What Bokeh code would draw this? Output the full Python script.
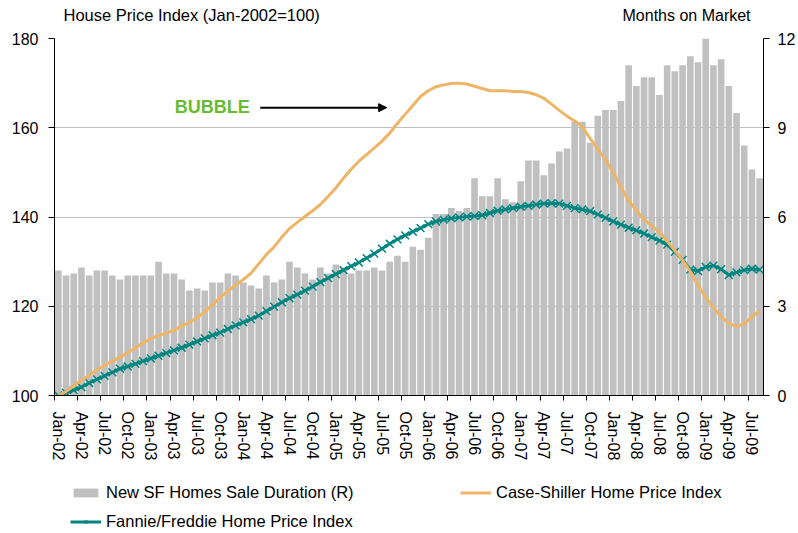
from bokeh.plotting import figure
from bokeh.models import (Range1d, LinearAxis, FixedTicker, Legend, LegendItem,
                          Label, Arrow, NormalHead)
from bokeh.layouts import column
from bokeh.embed import file_html
from bokeh.resources import INLINE

# ---------------- data ----------------
months = list(range(1, 93))  # Jan-02 .. Aug-09

sale_duration = [
    4.2, 4.03, 4.1, 4.3, 4.03, 4.2, 4.2, 4.03, 3.9, 4.03, 4.03, 4.03,
    4.03, 4.5, 4.1, 4.1, 3.9, 3.53, 3.6, 3.53, 3.8, 3.8, 4.1, 4.03,
    3.8, 3.7, 3.6, 4.03, 3.8, 3.9, 4.5, 4.3, 4.1, 3.9, 4.3, 4.1,
    4.4, 4.3, 4.1, 4.2, 4.2, 4.3, 4.2, 4.5, 4.7, 4.5, 5.0, 4.9,
    5.3, 6.1, 6.1, 6.3, 6.2, 6.3, 7.3, 6.7, 6.7, 7.3, 6.6, 6.5,
    7.2, 7.9, 7.9, 7.4, 7.8, 8.2, 8.3, 9.2, 9.2, 8.5, 9.4, 9.6,
    9.6, 9.9, 11.1, 10.4, 10.7, 10.7, 10.1, 11.1, 10.9, 11.1, 11.4, 11.2,
    12.1, 11.1, 11.3, 10.4, 9.5, 8.4, 7.6, 7.3,
]

case_shiller = [
    100.0, 100.9, 102.2, 103.4, 104.5, 105.7, 106.8, 107.7, 108.6, 109.6, 110.7, 111.8,
    112.8, 113.4, 114.0, 114.6, 115.6, 116.4, 117.4, 118.8, 120.3, 122.0, 123.4, 124.7,
    126.0, 127.4, 129.5, 131.6, 133.3, 135.5, 137.4, 138.8, 140.1, 141.4, 142.8, 144.6,
    146.5, 148.7, 150.7, 152.5, 154.0, 155.5, 157.0, 158.8, 161.0, 163.0, 165.0, 167.0,
    168.3, 169.2, 169.6, 169.9, 170.0, 169.8, 169.3, 168.8, 168.3, 168.3, 168.3, 168.1,
    168.1, 167.9, 167.4, 166.6, 165.3, 163.9, 162.6, 161.5, 160.2, 157.6, 155.2, 152.8,
    150.0, 146.7, 143.6, 141.5, 139.4, 138.0, 136.6, 134.6, 132.5, 130.3, 127.8, 124.7,
    122.0, 119.7, 117.7, 116.1, 115.5, 116.1, 117.6, 119.0,
]

fannie_freddie = [
    100.0, 100.6, 101.2, 101.9, 102.8, 103.6, 104.4, 105.2, 106.0, 106.5, 107.1, 107.7,
    108.3, 108.9, 109.5, 110.1, 110.7, 111.4, 112.1, 112.8, 113.5, 114.1, 114.9, 115.7,
    116.4, 117.1, 117.9, 118.9, 119.9, 120.9, 121.8, 122.6, 123.5, 124.4, 125.4, 126.3,
    127.2, 128.1, 129.0, 129.8, 130.8, 131.8, 132.9, 134.0, 135.0, 135.9, 136.7, 137.5,
    138.4, 139.0, 139.4, 139.7, 139.9, 140.1, 140.2, 140.4, 140.9, 141.4, 141.7, 142.0,
    142.3, 142.5, 142.8, 143.0, 143.1, 143.0, 142.5, 142.0, 141.7, 141.3, 140.6, 139.8,
    139.0, 138.3, 137.6, 137.0, 136.3, 135.5, 134.7, 133.8, 132.2, 130.4, 128.2, 127.9,
    128.8, 129.1, 128.3, 127.0, 127.6, 128.1, 128.4, 128.2,
]

tick_months = list(range(1, 93, 3))
tick_labels = [
    "Jan-02", "Apr-02", "Jul-02", "Oct-02", "Jan-03", "Apr-03", "Jul-03", "Oct-03",
    "Jan-04", "Apr-04", "Jul-04", "Oct-04", "Jan-05", "Apr-05", "Jul-05", "Oct-05",
    "Jan-06", "Apr-06", "Jul-06", "Oct-06", "Jan-07", "Apr-07", "Jul-07", "Oct-07",
    "Jan-08", "Apr-08", "Jul-08", "Oct-08", "Jan-09", "Apr-09", "Jul-09",
]
left_ticks = [100, 120, 140, 160, 180]
right_ticks = [0, 3, 6, 9, 12]

left_title = "House Price Index (Jan-2002=100)"
right_title = "Months on Market"
series_names = ["New SF Homes Sale Duration (R)", "Case-Shiller Home Price Index",
                "Fannie/Freddie Home Price Index"]

FONT = "Liberation Sans"
GRAY = "#C0C0C0"
ORANGE = "#EEB566"
TEAL = "#008580"

W = 798
TOP_H = 28
MAIN_H = 437
LEG_H = 533 - TOP_H - MAIN_H
FRAME_L = 54            # left edge of the plot area (frames are aligned in the column)
FRAME_R = W - 32        # right edge of the plot area


def bare(height):
    f = figure(width=W, height=height, output_backend="svg", toolbar_location=None,
               x_axis_location=None, y_axis_location=None, title=None,
               min_border_left=FRAME_L, min_border_right=W - FRAME_R,
               min_border_top=0, min_border_bottom=0)
    f.outline_line_color = None
    f.xgrid.grid_line_color = None
    f.ygrid.grid_line_color = None
    f.background_fill_color = "white"
    f.border_fill_color = "white"
    f.x_range = Range1d(FRAME_L, FRAME_R)
    f.y_range = Range1d(0, height)
    return f


# ---------------- title strip ----------------
top = bare(TOP_H)
top.add_layout(Label(x=63, y=TOP_H - 14.5, text=left_title, text_font=FONT,
                     text_font_size="16.5px", text_color="black", text_baseline="middle",
                     text_align="left"))
top.add_layout(Label(x=753, y=TOP_H - 14.5, text=right_title, text_font=FONT,
                     text_font_size="16px", text_color="black", text_baseline="middle",
                     text_align="right"))

# ---------------- main chart ----------------
p = figure(width=W, height=MAIN_H, output_backend="svg", toolbar_location=None,
           x_range=Range1d(0.5, 92.5), y_range=Range1d(100, 180),
           x_axis_location=None, y_axis_location=None, title=None,
           min_border_left=FRAME_L, min_border_right=W - FRAME_R, min_border_top=10,
           min_border_bottom=70)
p.outline_line_color = None
p.background_fill_color = "white"
p.border_fill_color = "white"

p.xgrid.grid_line_color = None
p.ygrid.ticker = FixedTicker(ticks=left_ticks)
p.ygrid.grid_line_color = GRAY
p.ygrid.grid_line_width = 1

p.extra_y_ranges = {"dur": Range1d(0, 12)}

lax = LinearAxis(ticker=FixedTicker(ticks=left_ticks))
rax = LinearAxis(y_range_name="dur", ticker=FixedTicker(ticks=right_ticks))
for ax in (lax, rax):
    ax.axis_line_color = "black"
    ax.axis_line_width = 1
    ax.major_tick_line_color = "black"
    ax.major_tick_out = 6
    ax.major_tick_in = 0
    ax.minor_tick_line_color = None
    ax.major_label_text_font = FONT
    ax.major_label_text_font_size = "16px"
    ax.major_label_text_color = "black"
lax.major_label_standoff = 10
rax.major_label_standoff = 8
p.add_layout(lax, "left")
p.add_layout(rax, "right")

# x axis: tick marks at month boundaries, labels centred on months
bx = LinearAxis(ticker=FixedTicker(ticks=[m - 0.5 for m in tick_months]))
bx.axis_line_color = "black"
bx.major_tick_line_color = "black"
bx.major_tick_out = 5
bx.major_tick_in = 0
bx.minor_tick_line_color = None
bx.major_label_overrides = {m - 0.5: "" for m in tick_months}
bx.major_label_text_font_size = "1px"
bx.major_label_standoff = 0
p.add_layout(bx, "below")

lx = LinearAxis(ticker=FixedTicker(ticks=tick_months))
lx.axis_line_color = None
lx.major_tick_line_color = None
lx.major_tick_out = 0
lx.major_tick_in = 0
lx.minor_tick_line_color = None
lx.major_label_overrides = {m: t for m, t in zip(tick_months, tick_labels)}
lx.major_label_orientation = "vertical"
lx.major_label_text_font = FONT
lx.major_label_text_font_size = "16px"
lx.major_label_text_color = "black"
lx.major_label_standoff = 11
p.add_layout(lx, "below")

p.vbar(x=months, top=sale_duration, bottom=0, width=0.86, y_range_name="dur",
       fill_color=GRAY, line_color=None)
p.line(months, fannie_freddie, line_color=TEAL, line_width=3)
p.scatter(months, fannie_freddie, marker="x", size=11, line_color=TEAL, line_width=1.5)
p.line(months, case_shiller, line_color=ORANGE, line_width=3)

p.add_layout(Label(x=16.1, y=164.6, text="BUBBLE", text_font=FONT, text_font_size="18px",
                   text_font_style="bold", text_color="#66BB33", text_baseline="middle",
                   text_align="left"))
p.add_layout(Arrow(x_start=27.2, y_start=164.5, x_end=43.6, y_end=164.5,
                   line_color="black", line_width=2,
                   end=NormalHead(size=8, fill_color="black", line_color="black")))

# ---------------- legend strip ----------------
lg = bare(LEG_H)
# legend swatch renderers: one point each, placed outside the visible range
off = [-1000]
sw_bar = lg.vbar(x=off, top=off, bottom=off, width=1, fill_color=GRAY, line_color=None)
sw_cs = lg.line(x=off, y=off, line_color=ORANGE, line_width=3)
sw_ffl = lg.line(x=off, y=off, line_color=TEAL, line_width=3)
sw_ffs = lg.scatter(x=off, y=off, marker="x", size=11, line_color=TEAL, line_width=1.5)


def style(leg):
    leg.border_line_color = None
    leg.background_fill_alpha = 0
    leg.padding = 0
    leg.margin = 0
    leg.spacing = 9
    leg.glyph_width = 31
    leg.glyph_height = 11
    leg.label_standoff = 5
    leg.label_height = 20
    leg.label_text_font = FONT
    leg.label_text_font_size = "16.5px"
    leg.label_text_color = "black"
    leg.label_text_baseline = "middle"


row_top = 482 - (TOP_H + MAIN_H)   # top of the first legend row inside the strip
legA = Legend(items=[LegendItem(label=series_names[0], renderers=[sw_bar]),
                     LegendItem(label=series_names[2], renderers=[sw_ffl, sw_ffs])],
              orientation="vertical", location=(70 - FRAME_L, LEG_H - row_top - 49))
legB = Legend(items=[LegendItem(label=series_names[1], renderers=[sw_cs])],
              orientation="vertical", location=(460 - FRAME_L, LEG_H - row_top - 20))
style(legA)
style(legB)
lg.add_layout(legA, "center")
lg.add_layout(legB, "center")

layout = column(top, p, lg, spacing=0)
open("out.html", "w").write(file_html(layout, INLINE))
